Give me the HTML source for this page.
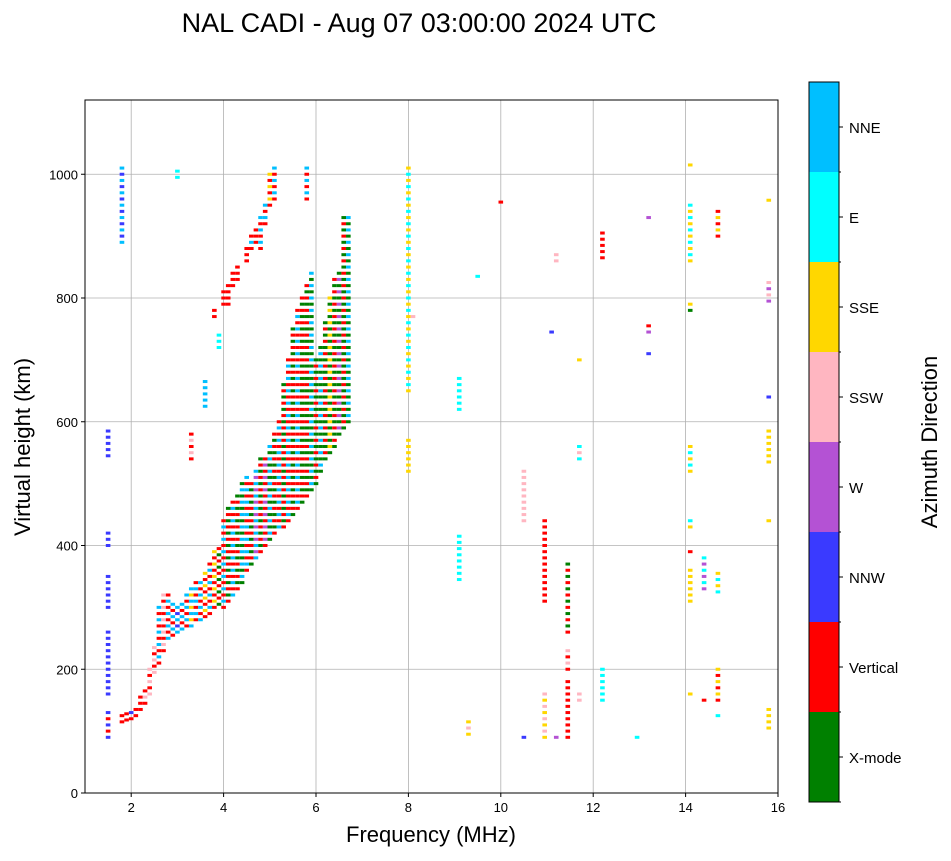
<!DOCTYPE html>
<html><head><meta charset="utf-8">
<style>
body{margin:0;background:#fff;font-family:"Liberation Sans",sans-serif;}
svg text{font-family:"Liberation Sans",sans-serif;}
</style></head>
<body>
<svg id="chart" width="951" height="856" xmlns="http://www.w3.org/2000/svg">
<text x="419" y="32" font-size="27" text-anchor="middle">NAL CADI - Aug 07 03:00:00 2024 UTC</text>
<g id="grid"></g>
<g id="marks"></g>
<rect x="85" y="100" width="693" height="693" fill="none" stroke="#000" stroke-width="1"/>
<g id="ticks"></g>
<text x="431" y="842" font-size="22" text-anchor="middle">Frequency (MHz)</text>
<text transform="translate(30,447) rotate(-90)" font-size="22" text-anchor="middle">Virtual height (km)</text>
<g id="cbar"></g>
<text transform="translate(937,442) rotate(-90)" font-size="22" text-anchor="middle">Azimuth Direction</text>
</svg>
<script>
const directions = ["X-mode","Vertical","NNW","W","SSW","SSE","E","NNE"];
const dirColors = ["#008000","#ff0000","#3a3aff","#b452d4","#ffb6c1","#ffd700","#00ffff","#00bfff"];
const xTicks = [2,4,6,8,10,12,14,16];
const yTicks = [0,200,400,600,800,1000];
// runs: [freq MHz, height low km, height high km, direction A, direction B]
const runs = [
[1.5,90,130,2,1],[1.5,160,260,2,2],[1.5,300,350,2,2],[1.5,400,425,2,2],[1.5,545,590,2,2],
[1.8,115,125,1,1],[1.8,890,1015,7,2],[1.9,118,128,1,1],[2.0,120,132,1,2],[2.1,125,140,1,1],
[2.2,135,155,1,1],[2.3,145,170,1,4],[2.4,160,200,4,1],[2.5,195,240,4,1],[2.6,210,300,1,7],
[2.7,230,320,1,4],[2.8,250,320,7,1],[2.9,255,310,1,7],[3.0,260,300,7,2],[3.1,265,310,7,1],
[3.2,270,320,1,7],[3.3,270,330,7,5],[3.4,280,340,1,7],[3.5,280,340,7,1],[3.6,285,360,1,5],
[3.7,290,370,1,7],[3.8,300,390,1,5],[3.9,305,400,0,1],[4.0,300,440,1,7],[4.1,310,460,1,0],
[4.2,320,470,7,1],[4.3,330,480,1,0],[4.4,340,500,0,7],[4.5,360,510,1,7],[4.6,370,500,0,1],
[4.7,380,520,7,3],[4.8,390,540,1,0],[4.9,400,540,1,3],[5.0,410,560,0,7],[5.1,420,580,1,0],
[5.2,430,600,7,1],[5.3,430,660,1,0],[5.4,440,700,1,7],[5.5,450,750,0,1],[5.6,460,780,1,7],
[5.7,470,800,0,1],[5.8,480,820,1,0],[5.9,490,840,0,7],[6.0,500,700,0,1],[6.1,520,720,0,7],
[6.2,540,760,0,1],[6.3,550,800,0,5],[6.4,560,830,0,1],[6.5,580,840,0,3],[6.6,590,930,0,1],
[6.7,600,930,0,7],
[3.8,770,780,1,1],[4.0,790,810,1,1],[4.1,790,820,1,1],[4.2,820,840,1,1],[4.3,830,850,1,1],
[4.5,860,880,1,1],[4.6,880,900,1,7],[4.7,890,910,1,1],[4.8,880,930,1,7],[4.9,920,950,1,7],
[5.0,950,1000,1,5],[5.1,960,1015,1,7],[5.8,960,1015,1,7],
[3.0,995,1005,6,6],[3.6,625,665,7,7],[3.3,540,580,1,4],[3.9,720,740,6,6],
[8.0,520,570,5,5],[8.0,650,1015,5,6],[8.1,770,775,4,4],[9.1,620,670,6,6],[9.1,345,420,6,6],
[9.3,95,120,5,4],[9.5,835,838,6,6],[10.0,955,956,1,1],[10.5,90,92,2,2],[10.5,440,520,4,4],
[10.95,90,160,5,4],[10.95,310,440,1,1],[11.2,90,92,3,3],[11.2,860,870,4,4],[11.1,745,746,2,2],
[11.45,90,180,1,1],[11.45,200,230,1,4],[11.45,260,370,1,0],[11.7,150,160,4,4],[11.7,540,560,6,4],[11.7,700,705,5,3],
[12.2,150,200,6,6],[12.2,865,910,1,1],[12.95,90,92,6,6],[13.2,930,932,3,3],[13.2,745,760,3,1],[13.2,710,712,2,2],
[14.1,160,162,5,5],[14.1,310,360,5,5],[14.1,390,395,1,1],[14.1,430,440,5,6],[14.1,520,560,5,6],
[14.1,780,790,0,5],[14.1,860,950,5,6],[14.1,1015,1016,5,5],[14.4,150,155,1,1],[14.4,330,380,3,6],
[14.7,125,128,6,6],[14.7,150,200,1,5],[14.7,325,355,6,5],[14.7,900,940,1,5],
[15.8,105,135,5,5],[15.8,440,442,5,5],[15.8,535,590,5,5],[15.8,640,642,2,2],[15.8,795,825,3,4],[15.8,958,962,5,5]
];
const NS="http://www.w3.org/2000/svg";
const X0=85,X1=778,Y0=793,Y1=100;
const xs=f=>X0+(f-1)/(16-1)*(X1-X0);
const ys=h=>Y0-h/1120*(Y0-Y1);
function mk(tag,attrs,parent){const e=document.createElementNS(NS,tag);for(const k in attrs)e.setAttribute(k,attrs[k]);parent.appendChild(e);return e;}
const grid=document.getElementById('grid'),ticks=document.getElementById('ticks'),marks=document.getElementById('marks'),cbar=document.getElementById('cbar');
xTicks.forEach(t=>{
  const l=mk('line',{x1:xs(t),x2:xs(t),y1:Y1,y2:Y0,stroke:'#b0b0b0','stroke-width':0.8},grid);
  
  
  mk('line',{x1:xs(t),x2:xs(t),y1:Y0,y2:Y0+4,stroke:'#000'},ticks);
  const tx=mk('text',{x:xs(t),y:Y0+19,'font-size':13,'text-anchor':'middle'},ticks);tx.textContent=t;
  
  
});
yTicks.forEach(t=>{
  const l=mk('line',{x1:X0,x2:X1,y1:ys(t),y2:ys(t),stroke:'#b0b0b0','stroke-width':0.8},grid);
  
  
  mk('line',{x1:X0-4,x2:X0,y1:ys(t),y2:ys(t),stroke:'#000'},ticks);
  const tx=mk('text',{x:X0-7,y:ys(t)+5,'font-size':13,'text-anchor':'end'},ticks);tx.textContent=t;
  
  
});
runs.forEach(r=>{
  const [f,h0,h1,a,b]=r;let i=0;
  for(let h=h0;h<=h1;h+=10){
    const c=dirColors[i%2?b:a];
    const re=mk('rect',{x:xs(f)-2.3,y:ys(h)-1.5,width:4.6,height:3,fill:c},marks);
    
    
    i++;
  }
});
const CB0=802,CBH=720/8;
directions.forEach((d,i)=>{
  const re=mk('rect',{x:809,y:CB0-(i+1)*CBH,width:30,height:CBH,fill:dirColors[i]},cbar);
  
  
  const cy=CB0-(i+0.5)*CBH;
  mk('line',{x1:839,x2:843,y1:cy,y2:cy,stroke:'#000'},cbar);
  mk('line',{x1:839,x2:841,y1:CB0-i*CBH,y2:CB0-i*CBH,stroke:'#000'},cbar);
  const tx=mk('text',{x:849,y:cy+6,'font-size':15},cbar);tx.textContent=d;
  
  
});
mk('rect',{x:809,y:82,width:30,height:720,fill:'none',stroke:'#000'},cbar);
</script>
</body></html>
